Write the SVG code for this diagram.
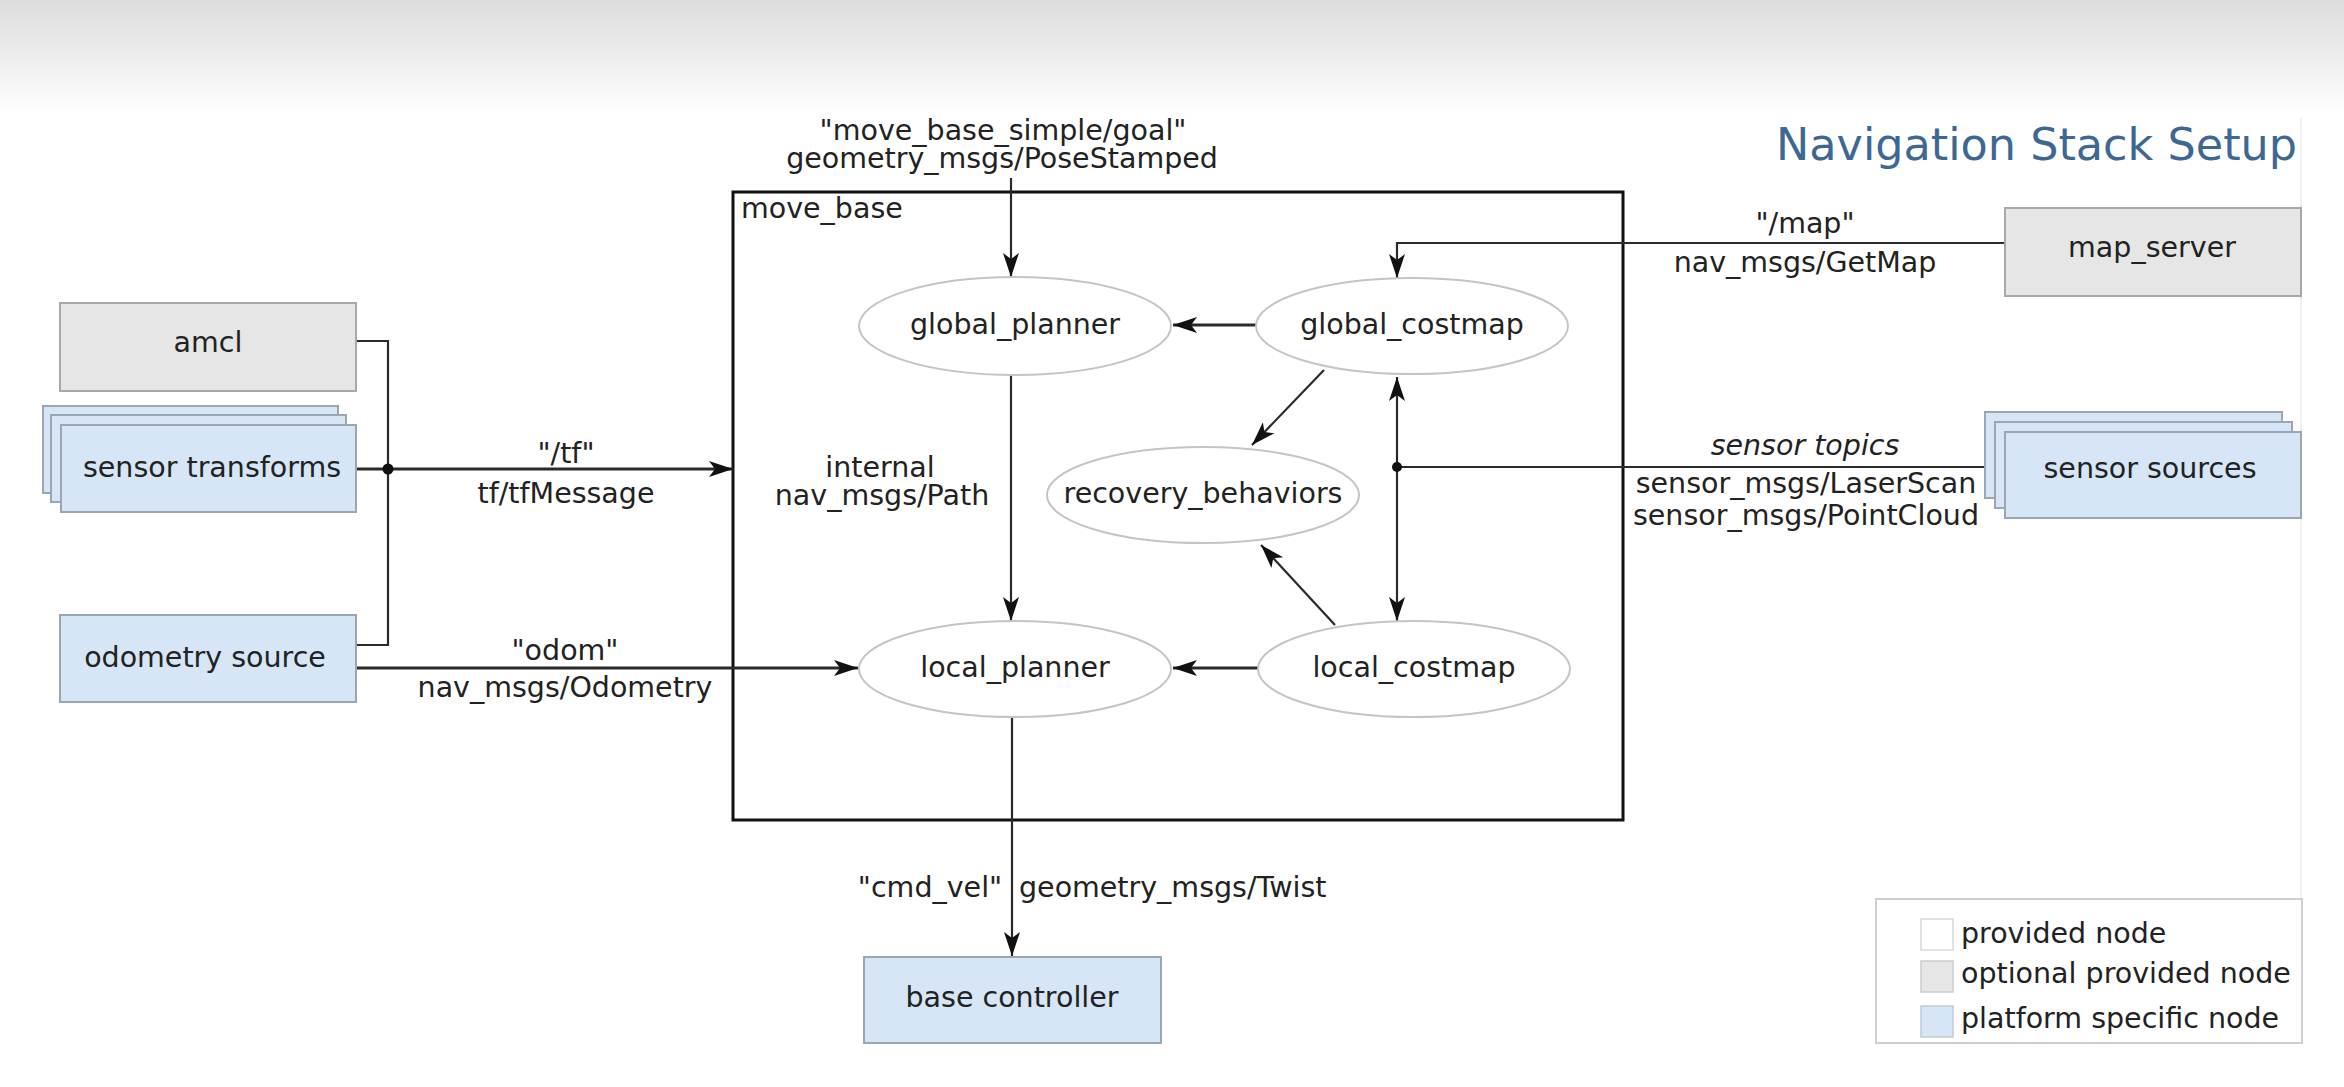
<svg xmlns="http://www.w3.org/2000/svg" width="2344" height="1087" viewBox="0 0 2344 1087">
<defs>
<linearGradient id="topfade" x1="0" y1="0" x2="0" y2="1">
<stop offset="0" stop-color="#dcdcdc"/>
<stop offset="1" stop-color="#ffffff"/>
</linearGradient>
<marker id="arr" markerUnits="userSpaceOnUse" markerWidth="26" markerHeight="18" refX="24" refY="8" orient="auto" overflow="visible">
<path d="M0,0 L24,8 L0,16 L6,8 z" fill="#111"/>
</marker>
<style>
text{font-family:"DejaVu Sans","Liberation Sans",sans-serif;font-size:28.5px;fill:#222}
.c{text-anchor:middle}
.gray{fill:#e6e6e6;stroke:#a8a8a8;stroke-width:2}
.blue{fill:#d6e6f7;stroke:#9aa6b2;stroke-width:2}
.ell{fill:#ffffff;stroke:#c4c4c4;stroke-width:2}
.ln{fill:none;stroke:#2a2a2a;stroke-width:2.2}
.lnt{fill:none;stroke:#2a2a2a;stroke-width:2.8}
</style>
</defs>
<rect x="0" y="0" width="2344" height="1087" fill="#ffffff"/>
<rect x="0" y="0" width="2344" height="115" fill="url(#topfade)"/>
<line x1="2301" y1="118" x2="2301" y2="900" stroke="#f1f1f1" stroke-width="2"/>

<text x="1776" y="160" style="font-size:44.5px;fill:#3d6894">Navigation Stack Setup</text>

<g id="move_base">
<rect x="733" y="192" width="890" height="628" fill="none" stroke="#111" stroke-width="3"/>
<text x="741" y="218">move_base</text>
</g>

<g id="connectors">
<path class="ln" d="M1011,178 V277" marker-end="url(#arr)"/>
<path class="lnt" d="M1256,325 H1173" marker-end="url(#arr)"/>
<path class="ln" d="M1011,375 V621" marker-end="url(#arr)"/>
<path class="ln" d="M2005,243 H1397 V278" marker-end="url(#arr)"/>
<path class="ln" d="M1985,467 H1397"/>
<path class="ln" d="M1397,467 V377" marker-end="url(#arr)"/>
<path class="ln" d="M1397,467 V621" marker-end="url(#arr)"/>
<circle cx="1397" cy="467" r="5" fill="#111"/>
<path class="ln" d="M1324,370 L1252,445" marker-end="url(#arr)"/>
<path class="ln" d="M1335,625 L1261,545" marker-end="url(#arr)"/>
<path class="lnt" d="M1258,668 H1173" marker-end="url(#arr)"/>
<path class="ln" d="M356,341 H388 V645 H356"/>
<path class="lnt" d="M356,469 H733" marker-end="url(#arr)"/>
<circle cx="388" cy="469" r="5.5" fill="#111"/>
<path class="lnt" d="M356,668 H858" marker-end="url(#arr)"/>
<path class="ln" d="M1012,718 V956" marker-end="url(#arr)"/>
<text class="c" x="1003" y="140">"move_base_simple/goal"</text>
<text class="c" x="1002" y="168">geometry_msgs/PoseStamped</text>
<text class="c" x="566" y="463">"/tf"</text>
<text class="c" x="566" y="503">tf/tfMessage</text>
<text class="c" x="565" y="660">"odom"</text>
<text class="c" x="565" y="697">nav_msgs/Odometry</text>
<text class="c" x="880" y="477">internal</text>
<text class="c" x="882" y="505">nav_msgs/Path</text>
<text class="c" x="1805" y="233">"/map"</text>
<text class="c" x="1805" y="272">nav_msgs/GetMap</text>
<text class="c" x="1805" y="455" font-style="italic">sensor topics</text>
<text class="c" x="1806" y="493">sensor_msgs/LaserScan</text>
<text class="c" x="1806" y="525">sensor_msgs/PointCloud</text>
<text class="c" x="930" y="897">"cmd_vel"</text>
<text x="1019" y="897">geometry_msgs/Twist</text>
</g>

<g id="amcl">
<rect class="gray" x="60" y="303" width="296" height="88"/>
<text class="c" x="208" y="352">amcl</text>
</g>
<g id="sensor_transforms">
<rect class="blue" x="43" y="406" width="295" height="87"/>
<rect class="blue" x="51" y="415" width="295" height="87"/>
<rect class="blue" x="61" y="425" width="295" height="87"/>
<text class="c" x="212" y="477">sensor transforms</text>
</g>
<g id="odometry_source">
<rect class="blue" x="60" y="615" width="296" height="87"/>
<text class="c" x="205" y="667">odometry source</text>
</g>
<g id="map_server">
<rect class="gray" x="2005" y="208" width="296" height="88"/>
<text class="c" x="2152" y="257">map_server</text>
</g>
<g id="sensor_sources">
<rect class="blue" x="1985" y="412" width="297" height="86"/>
<rect class="blue" x="1995" y="422" width="297" height="86"/>
<rect class="blue" x="2005" y="432" width="296" height="86"/>
<text class="c" x="2150" y="478">sensor sources</text>
</g>
<g id="base_controller">
<rect class="blue" x="864" y="957" width="297" height="86"/>
<text class="c" x="1012" y="1007">base controller</text>
</g>
<g id="global_planner">
<ellipse class="ell" cx="1015" cy="326" rx="156" ry="49"/>
<text class="c" x="1015" y="334">global_planner</text>
</g>
<g id="global_costmap">
<ellipse class="ell" cx="1412" cy="326" rx="156" ry="48"/>
<text class="c" x="1412" y="334">global_costmap</text>
</g>
<g id="recovery_behaviors">
<ellipse class="ell" cx="1203" cy="495" rx="156" ry="48"/>
<text class="c" x="1203" y="503">recovery_behaviors</text>
</g>
<g id="local_planner">
<ellipse class="ell" cx="1015" cy="669" rx="156" ry="48"/>
<text class="c" x="1015" y="677">local_planner</text>
</g>
<g id="local_costmap">
<ellipse class="ell" cx="1414" cy="669" rx="156" ry="48"/>
<text class="c" x="1414" y="677">local_costmap</text>
</g>

<g id="legend">
<rect x="1876" y="899" width="426" height="144" fill="#ffffff" stroke="#cfcfcf" stroke-width="2"/>
<rect x="1921" y="919" width="32" height="31" fill="#ffffff" stroke="#d8d8d8" stroke-width="1.5"/>
<rect x="1921" y="961" width="32" height="31" fill="#e6e6e6" stroke="#cccccc" stroke-width="1.5"/>
<rect x="1921" y="1006" width="32" height="31" fill="#d6e6f7" stroke="#c0cad6" stroke-width="1.5"/>
<text x="1961" y="943">provided node</text>
<text x="1961" y="983">optional provided node</text>
<text x="1961" y="1028">platform specific node</text>
</g>
</svg>
